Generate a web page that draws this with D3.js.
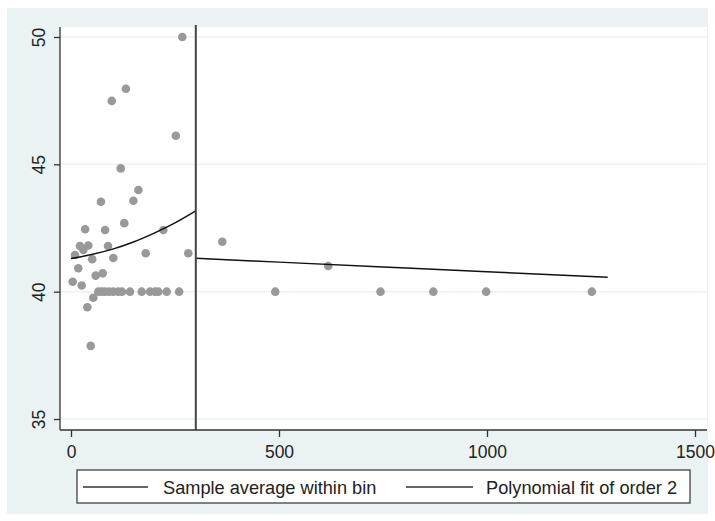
<!DOCTYPE html>
<html>
<head>
<meta charset="utf-8">
<script src="https://cdn.jsdelivr.net/npm/d3@7"></script>
<style>
  html, body { margin: 0; padding: 0; background: #ffffff; }
  svg { display: block; font-family: "Liberation Sans", Arial, sans-serif; }
</style>
</head>
<body>
<svg id="chart" width="715" height="521"></svg>
<script>
// ---- data ----
const binX = [267.5, 132, 98, 252, 119.5, 162, 72, 150, 128, 34, 82, 222, 21.6, 41.6, 29.6, 89, 9.6, 51, 101.7, 179.6, 282,
  17.5, 59.4, 76.2, 4.1, 25.7, 53.6, 39.2, 47.4, 363.7, 618.5,
  65.6, 73.8, 81.7, 92, 101.7, 113.7, 122.6, 141.8, 170, 190, 202, 210, 230, 260, 491, 744, 871, 998, 1252];
const binY = [50.0, 47.97, 47.49, 46.12, 44.84, 43.99, 43.53, 43.57, 42.69, 42.45, 42.42, 42.42, 41.79, 41.81, 41.64, 41.79, 41.44, 41.27, 41.32, 41.51, 41.51,
  40.92, 40.63, 40.72, 40.39, 40.24, 39.76, 39.39, 37.87, 41.96, 41.01,
  40, 40, 40, 40, 40, 40, 40, 40, 40, 40, 40, 40, 40, 40, 40, 40, 40, 40, 40];
const fitLeftX = [0, 50, 100, 150, 200, 250, 300];
const fitLeftY = [41.30, 41.46, 41.67, 41.95, 42.30, 42.70, 43.17];
const fitRightX = [300, 500, 750, 1000, 1290];
const fitRightY = [41.31, 41.16, 40.97, 40.78, 40.57];
const cutoff = 300;
const xTicks = [0, 500, 1000, 1500];
const yTicks = [35, 40, 45, 50];
const legendLabels = ["Sample average within bin", "Polynomial fit of order 2"];

// ---- drawing ----
const svg = d3.select("#chart");
const bg = "#eaf2f3";
const ink = "#222222";

svg.append("rect").attr("x", 7).attr("y", 8).attr("width", 701).attr("height", 506).attr("fill", bg);

const plot = {left: 60, right: 707, top: 27, bottom: 430};
svg.append("rect").attr("x", plot.left).attr("y", plot.top)
  .attr("width", plot.right - plot.left).attr("height", plot.bottom - plot.top).attr("fill", "#ffffff");

const x = d3.scaleLinear().domain([0, 1500]).range([71, 695]);
const y = d3.scaleLinear().domain([35, 50]).range([419, 37]);

// gridlines
svg.append("g").selectAll("line").data(yTicks).join("line")
  .attr("x1", plot.left).attr("x2", plot.right)
  .attr("y1", d => y(d)).attr("y2", d => y(d))
  .attr("stroke", bg).attr("stroke-width", 1.5);

// points
svg.append("g").selectAll("circle").data(binX.map((v, i) => [v, binY[i]])).join("circle")
  .attr("cx", d => x(d[0])).attr("cy", d => y(d[1])).attr("r", 4.3)
  .attr("fill", "#999999");

// fit lines
const line = d3.line().x(d => x(d[0])).y(d => y(d[1])).curve(d3.curveMonotoneX);
svg.append("path").datum(fitLeftX.map((v, i) => [v, fitLeftY[i]]))
  .attr("d", line).attr("fill", "none").attr("stroke", "#111").attr("stroke-width", 1.5);
svg.append("path").datum(fitRightX.map((v, i) => [v, fitRightY[i]]))
  .attr("d", line).attr("fill", "none").attr("stroke", "#111").attr("stroke-width", 1.5);

// cutoff line
svg.append("line").attr("x1", x(cutoff)).attr("x2", x(cutoff))
  .attr("y1", 25).attr("y2", plot.bottom)
  .attr("stroke", "#444").attr("stroke-width", 2);

// axes
const yAxis = svg.append("g").attr("transform", `translate(${plot.left},0)`)
  .call(d3.axisLeft(y).tickValues(yTicks).tickSize(6).tickSizeOuter(0).tickFormat(d3.format("d")));
yAxis.select(".domain").attr("d", `M0,${plot.top}V${plot.bottom}`).attr("stroke", "#333").attr("stroke-width", 1.3);
yAxis.selectAll(".tick line").attr("stroke", "#333").attr("stroke-width", 1.3);
yAxis.selectAll(".tick text")
  .attr("transform", "rotate(-90)").attr("text-anchor", "middle")
  .attr("x", 0).attr("y", -15).attr("dy", 0)
  .attr("font-size", 17.5).attr("fill", ink).style("font-family", "'Liberation Sans', Arial, sans-serif");

const xAxis = svg.append("g").attr("transform", `translate(0,${plot.bottom})`)
  .call(d3.axisBottom(x).tickValues(xTicks).tickSize(7).tickSizeOuter(0).tickFormat(d3.format("d")));
xAxis.select(".domain").attr("d", `M${plot.left},0H${plot.right}`).attr("stroke", "#333").attr("stroke-width", 1.3);
xAxis.selectAll(".tick line").attr("stroke", "#333").attr("stroke-width", 1.3);
xAxis.selectAll(".tick text").attr("y", 28).attr("dy", 0)
  .attr("font-size", 17.5).attr("fill", ink).style("font-family", "'Liberation Sans', Arial, sans-serif");

// legend
const lg = svg.append("g");
lg.append("rect").attr("x", 77).attr("y", 470).attr("width", 613).attr("height", 33)
  .attr("fill", "#ffffff").attr("stroke", "#333").attr("stroke-width", 1.2);
const lgItems = [{x1: 83, x2: 148, tx: 163}, {x1: 406, x2: 473, tx: 486}];
lgItems.forEach((it, i) => {
  lg.append("line").attr("x1", it.x1).attr("x2", it.x2).attr("y1", 487).attr("y2", 487)
    .attr("stroke", "#333").attr("stroke-width", 1.3);
  lg.append("text").attr("x", it.tx).attr("y", 493.5).attr("font-size", 18.2).attr("fill", ink)
    .text(legendLabels[i]);
});
</script>
</body>
</html>
